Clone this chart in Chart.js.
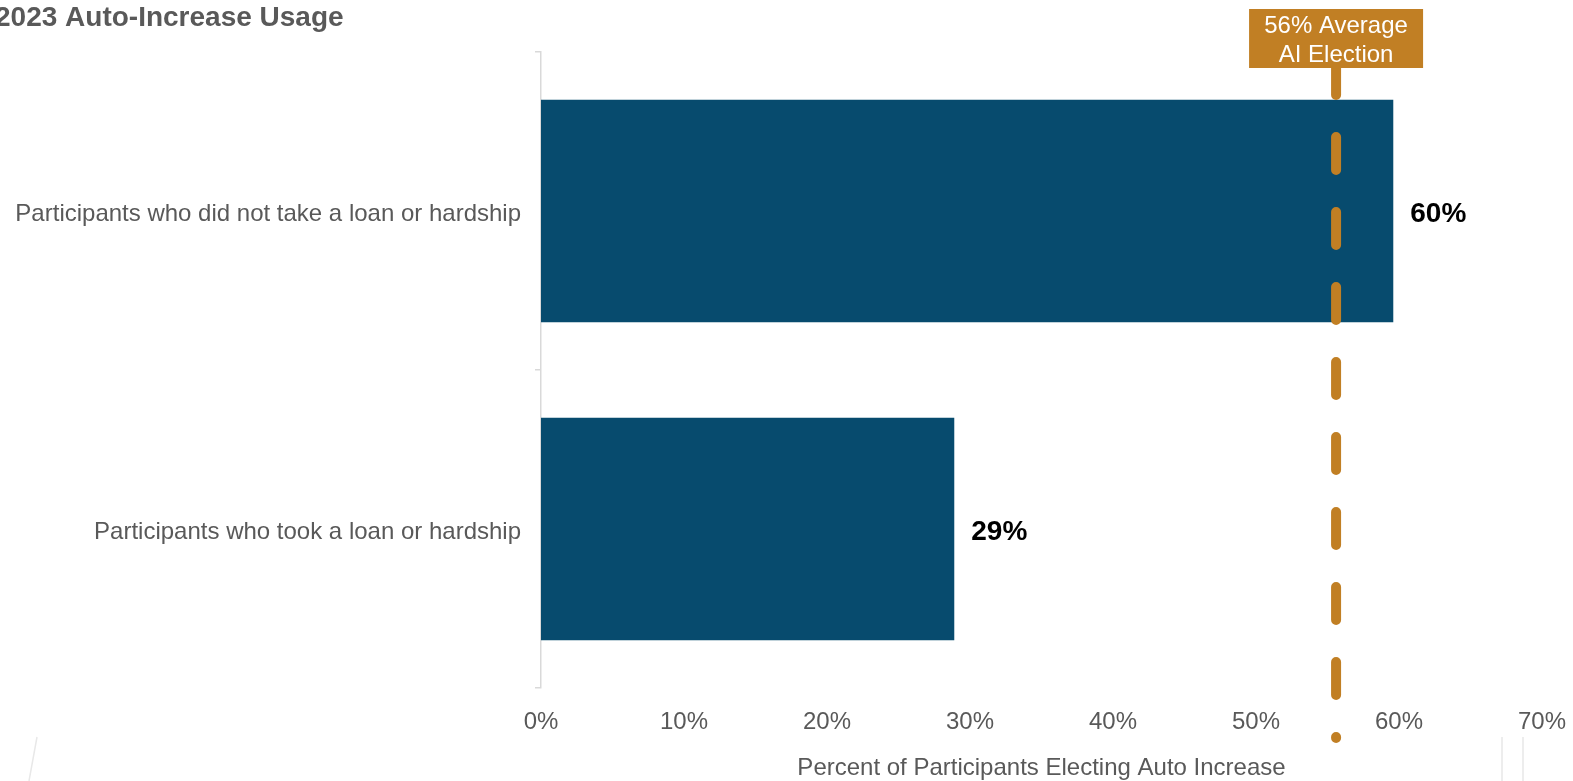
<!DOCTYPE html>
<html lang="en">
<head>
  <meta charset="UTF-8">
  <title>2023 Auto-Increase Usage</title>
  <script src="https://cdn.jsdelivr.net/npm/chart.js"></script>
  <style>
    html, body { margin: 0; padding: 0; background: #fff; }
    #wrap { width: 1573px; height: 781px; position: relative; }
  </style>
</head>
<body>
  <div id="wrap"><canvas id="aiChart"></canvas></div>

  <script>
    const categories = ["Participants who did not take a loan or hardship", "Participants who took a loan or hardship"];
    const electionRates = [59.6, 28.9];
    const rateLabels = ["60%", "29%"];
    const averageRate = 55.6;
    const averageLabel = ["56% Average", "AI Election"];
    const xTicks = [0, 10, 20, 30, 40, 50, 60, 70];

    const FONT = "'Liberation Sans', Arial, sans-serif";
    const GREY = "#595959";
    const ORANGE = "#c17f24";

    // value labels at bar ends + average line with its box
    const overlay = {
      id: "overlay",
      afterDatasetsDraw(chart) {
        const ctx = chart.ctx;
        const meta = chart.getDatasetMeta(0);
        ctx.save();
        ctx.font = "bold 28px " + FONT;
        ctx.fillStyle = "#000";
        ctx.textBaseline = "middle";
        meta.data.forEach((bar, i) => {
          ctx.fillText(rateLabels[i], bar.x + 17, bar.y + 3);
        });

        const x = chart.scales.x.getPixelForValue(averageRate);
        ctx.strokeStyle = ORANGE;
        ctx.lineWidth = 10;
        ctx.lineCap = "round";
        ctx.setLineDash([33, 42]);
        ctx.beginPath();
        ctx.moveTo(x, 62);
        ctx.lineTo(x, 738);
        ctx.stroke();
        ctx.setLineDash([]);

        ctx.fillStyle = ORANGE;
        ctx.fillRect(x - 87, 9, 174, 59);
        ctx.fillStyle = "#fff";
        ctx.font = "24px " + FONT;
        ctx.textAlign = "center";
        ctx.textBaseline = "alphabetic";
        ctx.fillText(averageLabel[0], x, 33);
        ctx.fillText(averageLabel[1], x, 62);
        ctx.restore();
      },
      afterDraw(chart) {
        const ctx = chart.ctx;
        ctx.save();
        ctx.fillStyle = GREY;
        ctx.font = "bold 28px " + FONT;
        ctx.textBaseline = "alphabetic";
        ctx.fillText("2023 Auto-Increase Usage", -5, 26);

        // faint slide decorations
        ctx.strokeStyle = "#e8e8e8";
        ctx.lineWidth = 1.5;
        ctx.beginPath();
        ctx.moveTo(37, 737); ctx.lineTo(29, 781);
        ctx.moveTo(1502, 737); ctx.lineTo(1502, 781);
        ctx.moveTo(1523, 737); ctx.lineTo(1523, 781);
        ctx.stroke();
        ctx.restore();
      }
    };

    new Chart(document.getElementById("aiChart"), {
      type: "bar",
      data: {
        labels: categories,
        datasets: [{
          data: electionRates,
          backgroundColor: "#074b6e",
          barPercentage: 0.7,
          categoryPercentage: 1.0
        }]
      },
      options: {
        indexAxis: "y",
        responsive: true,
        maintainAspectRatio: false,
        animation: false,
        layout: { padding: { top: 52, right: 31, left: 0, bottom: 0 } },
        plugins: {
          legend: { display: false },
          tooltip: { enabled: false }
        },
        scales: {
          x: {
            min: 0,
            max: 70,
            afterBuildTicks(scale) { scale.ticks = xTicks.map(v => ({ value: v })); },
            afterFit(scale) {
              scale.height = 93;
              scale.paddingLeft = 0;
              scale.paddingRight = 0;
            },
            grid: { display: false, drawTicks: false },
            border: { display: false },
            ticks: {
              padding: 20,
              color: GREY,
              font: { family: FONT, size: 24 },
              callback: v => v + "%"
            },
            title: {
              display: true,
              text: "Percent of Participants Electing Auto Increase",
              color: GREY,
              font: { family: FONT, size: 24 },
              padding: { top: 0, bottom: -2 }
            }
          },
          y: {
            afterFit(scale) { scale.width = 541; },
            grid: {
              drawOnChartArea: false,
              drawTicks: true,
              tickLength: 6,
              color: "#d9d9d9",
              lineWidth: 1.5
            },
            border: { display: true, color: "#d9d9d9", width: 1.5 },
            ticks: {
              padding: 14,
              labelOffset: 3,
              color: GREY,
              font: { family: FONT, size: 24 }
            }
          }
        }
      },
      plugins: [overlay]
    });
  </script>
</body>
</html>
